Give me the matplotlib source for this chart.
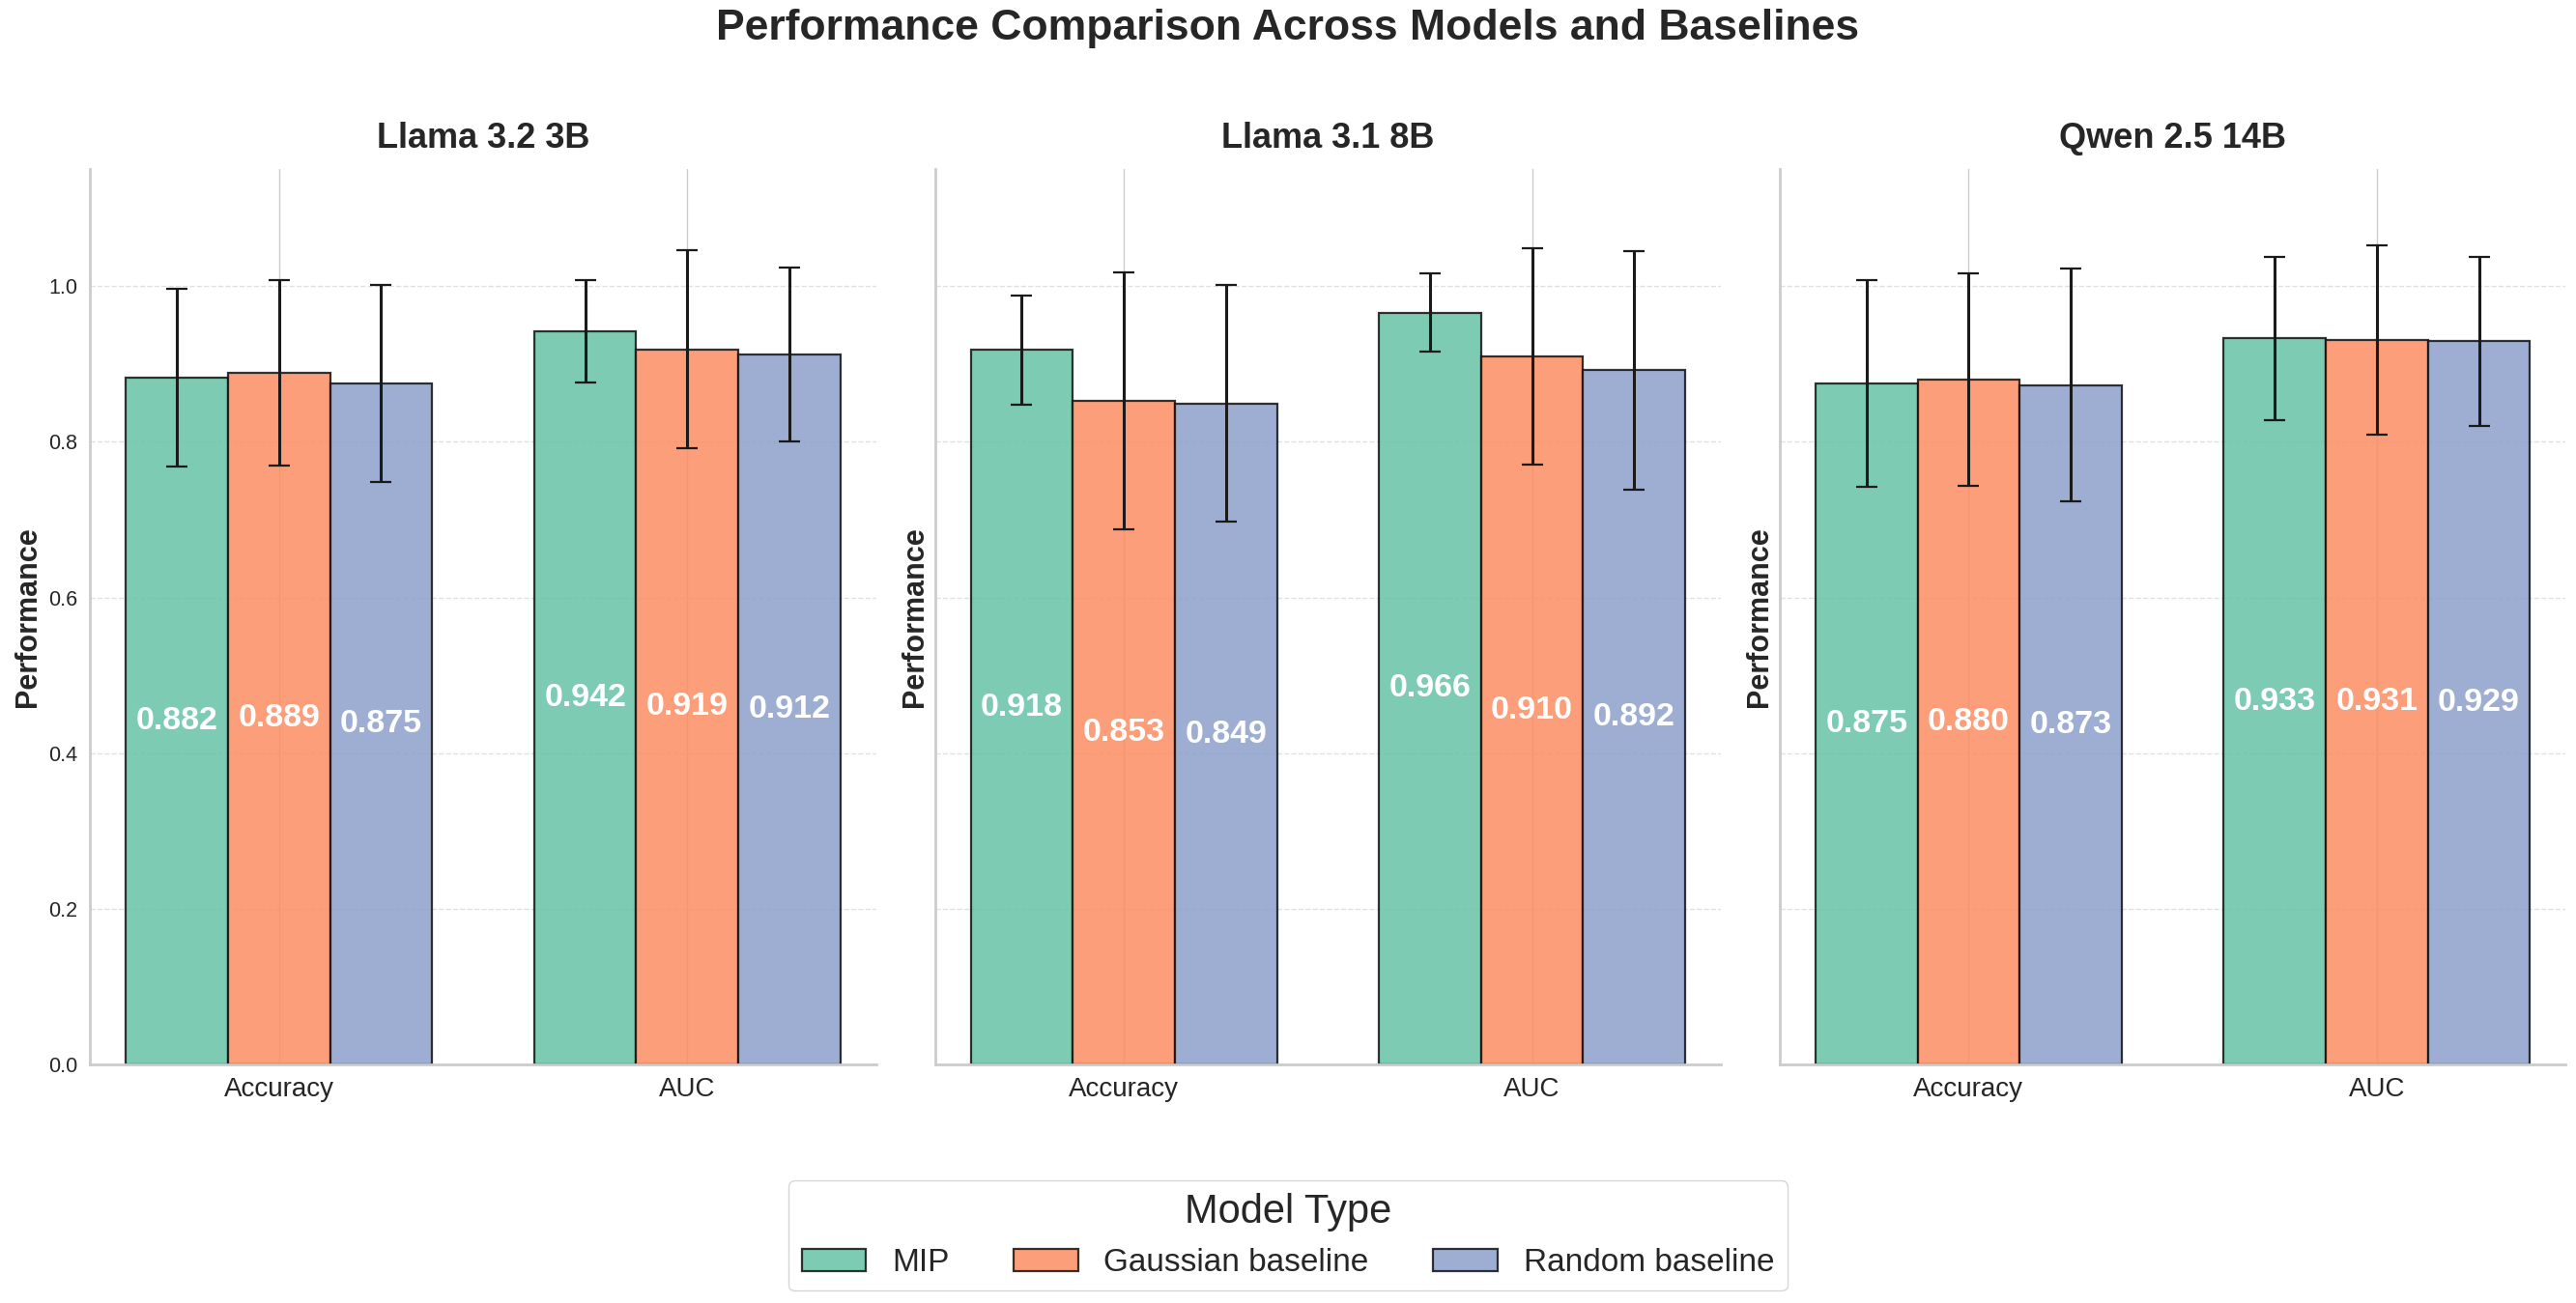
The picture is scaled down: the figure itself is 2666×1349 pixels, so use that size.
import numpy as np
import matplotlib
matplotlib.use("Agg")
import matplotlib.pyplot as plt
import seaborn as sns

# values
models = ["Llama 3.2 3B", "Llama 3.1 8B", "Qwen 2.5 14B"]
metrics = ["Accuracy", "AUC"]
methods = ["MIP", "Gaussian baseline", "Random baseline"]

# [model][method] -> (Accuracy, AUC)
mip_mean = [[0.882, 0.942], [0.918, 0.966], [0.875, 0.933]]
gauss_mean = [[0.889, 0.919], [0.853, 0.910], [0.880, 0.931]]
rand_mean = [[0.875, 0.912], [0.849, 0.892], [0.873, 0.929]]

mip_err = [[0.114, 0.066], [0.070, 0.050], [0.133, 0.105]]
gauss_err = [[0.119, 0.127], [0.165, 0.139], [0.137, 0.122]]
rand_err = [[0.127, 0.112], [0.152, 0.153], [0.150, 0.108]]

sns.set_theme(style="whitegrid")
plt.rcParams['font.family'] = ['Liberation Sans', 'DejaVu Sans']
colors = sns.color_palette("Set2", 3)

fig, axes = plt.subplots(1, 3, figsize=(26.66, 13.49), dpi=100, sharey=True)
fig.subplots_adjust(left=0.035, right=0.996, top=0.870, bottom=0.183, wspace=0.075)

x = np.arange(len(metrics))
width = 0.25

for i, ax in enumerate(axes):
    means = [mip_mean[i], gauss_mean[i], rand_mean[i]]
    errs = [mip_err[i], gauss_err[i], rand_err[i]]
    for j, name in enumerate(methods):
        pos = x + (j - 1) * width
        bars = ax.bar(pos, means[j], width, yerr=errs[j], label=name,
                      color=colors[j], alpha=0.85, edgecolor="#111111", linewidth=1.6,
                      capsize=8, error_kw=dict(elinewidth=2.2, capthick=1.6, ecolor="#1a1a1a"))
        for b, v in zip(bars, means[j]):
            ax.text(b.get_x() + b.get_width() / 2, v / 2, f"{v:.3f}",
                    ha="center", va="center", color="white", fontsize=24.5, fontweight="bold")

    ax.set_title(models[i], fontsize=26, fontweight="bold", pad=16)
    ax.set_ylabel("Performance", fontsize=22, fontweight="bold")
    ax.set_xticks(x)
    ax.set_xticklabels(metrics, fontsize=20)
    ax.tick_params(axis="y", labelsize=15.5)
    ax.set_ylim(0, 1.15)
    ax.grid(axis="y", linestyle="--", alpha=0.6)
    ax.grid(axis="x", linestyle="-", alpha=1.0)
    sns.despine(ax=ax)
    for s in ["left", "bottom"]:
        ax.spines[s].set_color("#cccccc")
        ax.spines[s].set_linewidth(2)

fig.suptitle("Performance Comparison Across Models and Baselines",
             fontsize=32, fontweight="bold", y=0.993, va="top")

handles, labels = axes[0].get_legend_handles_labels()
leg = fig.legend(handles, labels, loc="lower center", bbox_to_anchor=(0.5, -0.003),
                 ncol=3, title="Model Type", fontsize=24, title_fontsize=30,
                 frameon=True, fancybox=True, handlelength=2.0, columnspacing=2.0)

fig.savefig("out.png", dpi=100)
